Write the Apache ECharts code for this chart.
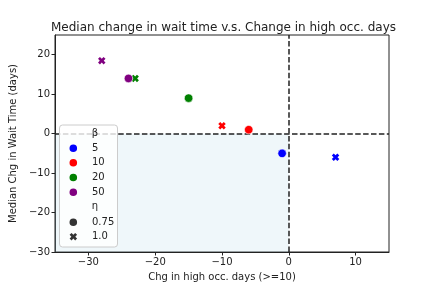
<!DOCTYPE html>
<html><head><meta charset="utf-8">
<script src="https://cdn.jsdelivr.net/npm/echarts@6/dist/echarts.min.js"></script>
<style>html,body{margin:0;padding:0;background:#fff}#c{width:432px;height:288px}</style>
</head><body><div id="c"></div>
<script>
const betas = ['5', '10', '20', '50'];
const betaColors = ['#0000ff', '#ff0000', '#008000', '#800080'];
const etas = ['0.75', '1.0'];
// eta = 0.75 (circles)
const eta075X = [-1, -6, -15, -24];
const eta075Y = [-5, 1, 9, 14];
// eta = 1.0 (crosses)
const eta1X = [7, -10, -23, -28];
const eta1Y = [-6, 2, 14, 18.5];
const xTicks = [-30, -20, -10, 0, 10];
const yTicks = [-30, -20, -10, 0, 10, 20];

const FONT = 'DejaVu Sans';
const XPTS = [[0,2.6],[2.6,0],[5,2.4],[7.4,0],[10,2.6],[7.6,5],[10,7.4],[7.4,10],[5,7.6],[2.6,10],[0,7.4],[2.4,5]];
const XPATH = 'path://M' + XPTS.map(p => p.join(',')).join(' L') + ' Z';
const fmt = v => String(v).replace('-', '\u2212');

const series = [];
series.push({
  type: 'scatter', data: [], silent: true, z: 1,
  markArea: { silent: true, itemStyle: { color: 'rgba(173,216,230,0.2)' },
    data: [[{ coord: [-35, -30] }, { coord: [0, 0] }]] },
  markLine: { silent: true, symbol: 'none', label: { show: false },
    lineStyle: { color: '#222', type: [5.5, 2.4], width: 1.5 },
    data: [{ xAxis: 0 }, { yAxis: 0 }] }
});
betas.forEach((b, i) => {
  series.push({ type: 'scatter', name: b + '-0.75', symbol: 'circle', symbolSize: 8.5, z: 5,
    itemStyle: { color: betaColors[i], borderColor: '#fff', borderWidth: 0.6, opacity: 1 },
    data: [[eta075X[i], eta075Y[i]]] });
  series.push({ type: 'scatter', name: b + '-1.0', symbol: XPATH, symbolSize: 7.5, z: 5,
    itemStyle: { color: betaColors[i], opacity: 1 },
    data: [[eta1X[i], eta1Y[i]]] });
});

// legend as graphic
const lg = [];
const lx = 59.5, ly = 125;
lg.push({ type: 'rect', shape: { x: lx, y: ly, width: 58, height: 122, r: 3 },
  style: { fill: 'rgba(255,255,255,0.8)', stroke: '#ccc', lineWidth: 1 }, z: 100 });
const rowY = [148.3, 162.8, 177.5, 192.2];
lg.push({ type: 'text', x: 95, y: 133.5, style: { text: '\u03b2', font: '10px ' + FONT, fill: '#222', align: 'center', verticalAlign: 'middle' }, z: 101 });
betas.forEach((b, i) => {
  lg.push({ type: 'circle', shape: { cx: 73.3, cy: rowY[i], r: 3.8 }, style: { fill: betaColors[i] }, z: 101 });
  lg.push({ type: 'text', x: 92, y: rowY[i], style: { text: b, font: '10px ' + FONT, fill: '#222', verticalAlign: 'middle' }, z: 101 });
});
lg.push({ type: 'text', x: 95, y: 206.8, style: { text: '\u03b7', font: '10px ' + FONT, fill: '#222', align: 'center', verticalAlign: 'middle' }, z: 101 });
lg.push({ type: 'circle', shape: { cx: 73.3, cy: 222.3, r: 3.8 }, style: { fill: '#333' }, z: 101 });
lg.push({ type: 'text', x: 92, y: 222.3, style: { text: etas[0], font: '10px ' + FONT, fill: '#222', verticalAlign: 'middle' }, z: 101 });
lg.push({ type: 'polygon', shape: { points: XPTS.map(p => [69.6 + p[0] * 0.75, 232.9 + p[1] * 0.75]) },
  style: { fill: '#333' }, z: 101 });
lg.push({ type: 'text', x: 92, y: 236.7, style: { text: etas[1], font: '10px ' + FONT, fill: '#222', verticalAlign: 'middle' }, z: 101 });

const axisCommon = {
  axisLine: { show: true, onZero: false, lineStyle: { color: '#222', width: 1 } },
  axisTick: { show: true, length: 3.5, lineStyle: { color: '#222', width: 1 } },
  splitLine: { show: false },
  nameLocation: 'middle',
  nameTextStyle: { fontFamily: FONT, fontSize: 10, color: '#222' }
};

const option = {
  animation: false,
  backgroundColor: '#fff',
  title: { text: 'Median change in wait time v.s. Change in high occ. days', left: 46, top: 17,
    textStyle: { fontFamily: FONT, fontSize: 12, fontWeight: 'normal', color: '#222' } },
  grid: { left: 54, right: 43, top: 35, bottom: 36, show: true, borderColor: '#222', borderWidth: 1, containLabel: false },
  xAxis: Object.assign({}, axisCommon, {
    type: 'value', min: -35, max: 15, name: 'Chg in high occ. days (>=10)', nameGap: 20,
    axisTick: Object.assign({}, axisCommon.axisTick, { customValues: xTicks }),
    axisLabel: { customValues: xTicks, formatter: fmt, fontFamily: FONT, fontSize: 10, color: '#222', margin: 5 }
  }),
  yAxis: Object.assign({}, axisCommon, {
    type: 'value', min: -30, max: 25, name: 'Median Chg in Wait Time (days)', nameGap: 24,
    axisTick: Object.assign({}, axisCommon.axisTick, { customValues: yTicks }),
    axisLabel: { customValues: yTicks, formatter: fmt, fontFamily: FONT, fontSize: 10, color: '#222', margin: 5 }
  }),
  graphic: lg,
  series: series
};
const chart = echarts.init(document.getElementById('c'), null, { renderer: 'canvas' });
chart.setOption(option);
</script></body></html>
